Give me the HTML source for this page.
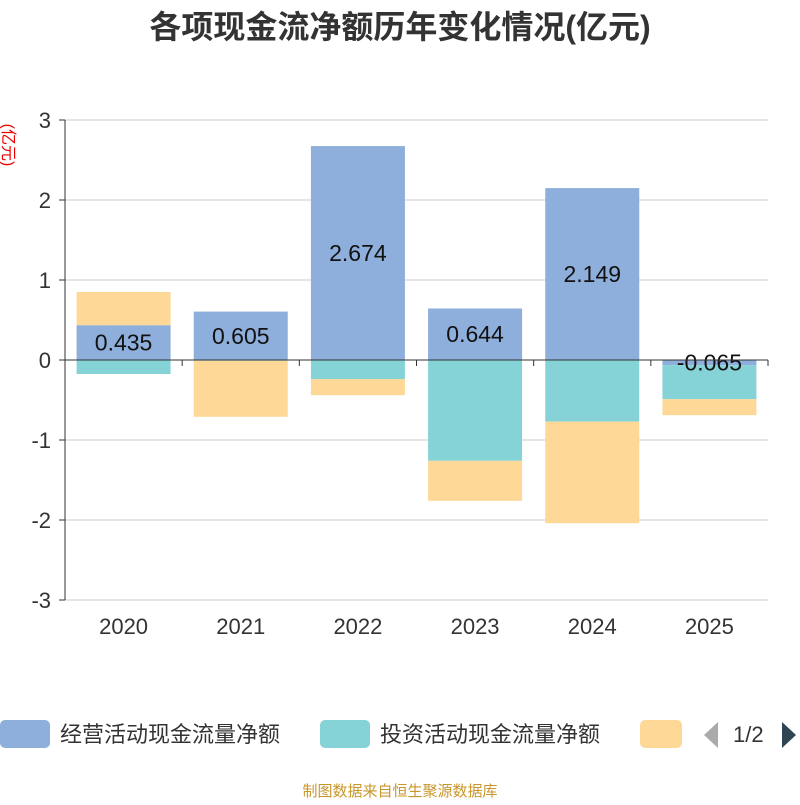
<!DOCTYPE html>
<html><head><meta charset="utf-8"><style>
body{margin:0;background:#fff;font-family:"Liberation Sans","Noto Sans CJK SC",sans-serif}
svg text{font-family:"Liberation Sans","Noto Sans CJK SC",sans-serif}
</style></head><body>
<svg id="c" width="800" height="800">
<text x="400" y="38" text-anchor="middle" font-size="32" font-weight="bold" fill="#333">各项现金流净额历年变化情况(亿元)</text>
<text transform="translate(3,145) rotate(90)" text-anchor="middle" font-size="16" fill="#e00">(亿元)</text>
<g id="grid"></g><g id="bars"></g><g id="axes"></g>
<g>
<rect x="0" y="720" width="50" height="28" rx="5" fill="#8eaedb"/>
<text x="60" y="742" font-size="22" fill="#333">经营活动现金流量净额</text>
<rect x="320" y="720" width="50" height="28" rx="5" fill="#85d3d6"/>
<text x="380" y="742" font-size="22" fill="#333">投资活动现金流量净额</text>
<rect x="640" y="720" width="42" height="28" rx="5" fill="#fed897"/>
<polygon points="718,722 718,748 704,735" fill="#aaa"/>
<text x="733" y="742" font-size="22" fill="#333">1/2</text>
<polygon points="782,722 782,748 796,735" fill="#2f4554"/>
</g>
<text x="400" y="796" text-anchor="middle" font-size="15" fill="#c8962a">制图数据来自恒生聚源数据库</text>
</svg>
<script>
const categories=["2020","2021","2022","2023","2024","2025"];
const operating=[0.435,0.605,2.674,0.644,2.149,-0.065];
const investing=[-0.175,-0.01,-0.24,-1.26,-0.77,-0.425];
const financing=[0.415,-0.70,-0.2,-0.5,-1.27,-0.2];
const yTicks=[-3,-2,-1,0,1,2,3];
const NS="http://www.w3.org/2000/svg";
const x0=65,x1=768,band=(x1-x0)/categories.length,bw=94;
const y=v=>360-v*80;
function mk(tag,attrs,parent){const e=document.createElementNS(NS,tag);for(const k in attrs)e.setAttribute(k,attrs[k]);document.getElementById(parent).appendChild(e);return e;}
yTicks.forEach(t=>{
 const l=mk("line",{x1:x0,x2:x1,y1:y(t),y2:y(t),stroke:"#ccc","stroke-width":1},"grid");
 
 
 const tk=mk("line",{x1:x0-6,x2:x0,y1:y(t),y2:y(t),stroke:"#333"},"axes");
 
 
 const tx=mk("text",{x:x0-14,y:y(t)+8,"text-anchor":"end","font-size":22,fill:"#333"},"axes");
 tx.textContent=t;
 
 
});
const ya=mk("line",{x1:x0,x2:x0,y1:y(3),y2:y(-3),stroke:"#333"},"axes");


const xa=mk("line",{x1:x0,x2:x1,y1:y(0),y2:y(0),stroke:"#333"},"axes");


const series=[[operating,"#8eaedb","operating"],[investing,"#85d3d6","investing"],[financing,"#fed897","financing"]];
categories.forEach((c,i)=>{
 const cx=x0+band*(i+0.5);
 const tk=mk("line",{x1:x0+band*(i+1),x2:x0+band*(i+1),y1:y(0),y2:y(0)+6,stroke:"#333"},"axes");
 
 
 const tx=mk("text",{x:cx,y:634,"text-anchor":"middle","font-size":22,fill:"#333"},"axes");
 tx.textContent=c;
 
 
 let pos=0,neg=0;
 series.forEach(([arr,col,nm])=>{
  const v=arr[i];let a,b;
  if(v>=0){a=pos;b=pos+v;pos=b;}else{a=neg;b=neg+v;neg=b;}
  const r=mk("rect",{x:cx-bw/2,width:bw,y:Math.min(y(a),y(b)),height:Math.abs(y(a)-y(b)),fill:col},"bars");
  
  
 });
 const v=operating[i];
 const lt=mk("text",{x:cx,y:(y(0)+y(v))/2+8,"text-anchor":"middle","font-size":23,fill:"#111"},"bars");
 lt.textContent=v.toFixed(3);
 
 
});
</script>
</body></html>
